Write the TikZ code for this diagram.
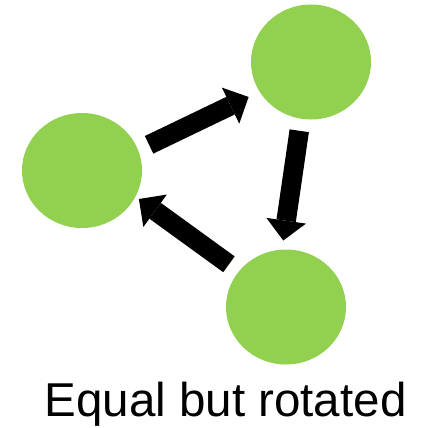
\documentclass[tikz,border=0pt]{standalone}
\usepackage{fontspec}
\setmainfont{Liberation Sans}
\usetikzlibrary{arrows.meta,shapes.geometric}
\definecolor{leafgreen}{HTML}{92D050}

\begin{document}
\begin{tikzpicture}[
  x=1pt, y=-1pt,
  blob/.style={ellipse, fill=leafgreen, minimum width=120pt, minimum height=115pt, inner sep=0pt},
  flow/.style={line width=19.5pt, -{Triangle[length=20pt, width=40pt, line width=0pt]}}
]
\useasboundingbox (0,0) rectangle (420,428);
\node[blob] (left) at (82,170.5) {};
\node[blob] (upper) at (311,62) {};
\node[blob] (lower) at (286,307) {};
\draw[flow, shorten <=12pt, shorten >=12pt] (left.20) -- (upper.210);
\draw[flow, shorten <=12pt, shorten >=9pt] (upper.260) -- (lower.94);
\draw[flow, shorten <=12pt, shorten >=4pt] (lower.143.6) -- (left.334.7);
\node[anchor=base west, font=\fontsize{47.5pt}{52pt}\selectfont, inner sep=0pt] (caption) at (44.5,416) {Equal but rotated};
\end{tikzpicture}
\end{document}
